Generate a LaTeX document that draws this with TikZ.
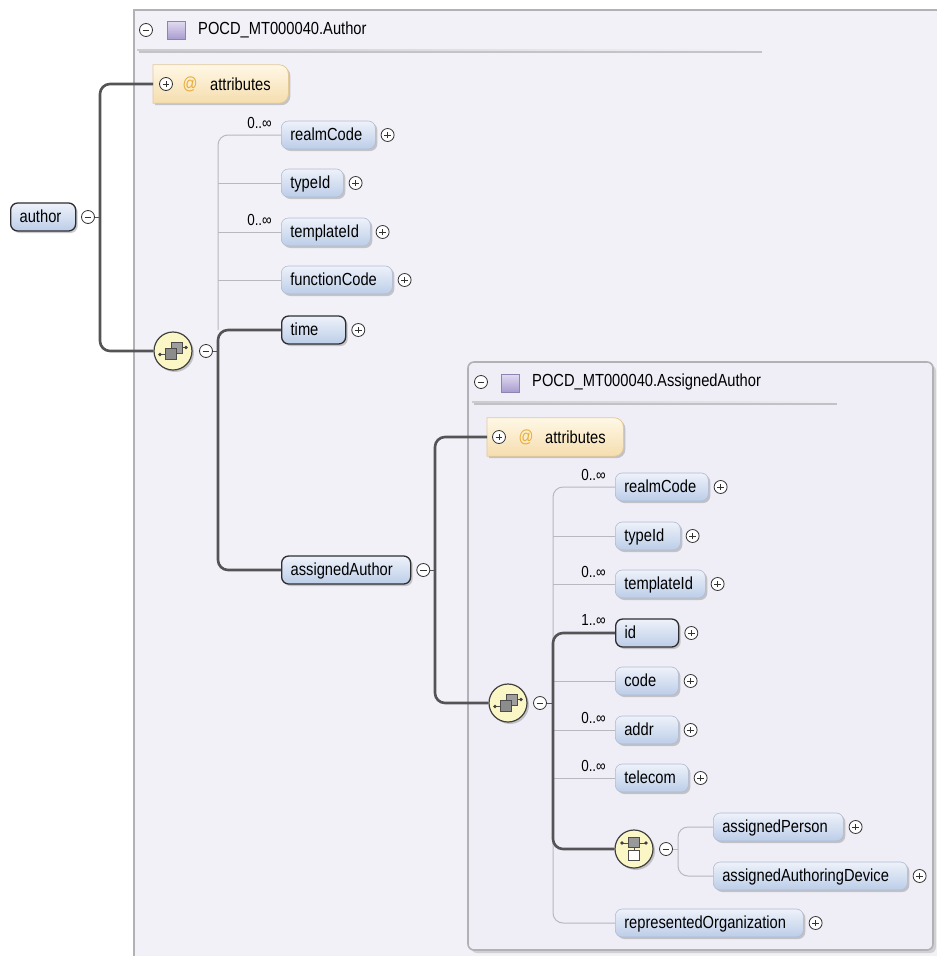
\documentclass[tikz,border=0pt]{standalone}
\usepackage{fontspec}
\setmainfont{Liberation Sans}[FakeStretch=0.84]
\usetikzlibrary{shadows,calc}
\definecolor{bgout}{HTML}{F3F1F8}
\definecolor{bgin}{HTML}{EFEDF6}
\definecolor{boxline}{HTML}{B2B1B6}
\definecolor{nodetop}{HTML}{EEF2FA}
\definecolor{nodebot}{HTML}{BCCDE8}
\definecolor{optborder}{HTML}{AFBCD2}
\definecolor{reqborder}{HTML}{2E2E32}
\definecolor{attrtop}{HTML}{FFF8E6}
\definecolor{attrbot}{HTML}{F5DDAE}
\definecolor{attrline}{HTML}{E3C995}
\definecolor{atsign}{HTML}{E7AE3A}
\definecolor{iconfill}{HTML}{FAF6C6}
\definecolor{thickc}{HTML}{545456}
\definecolor{thinc}{HTML}{B9B8BE}
\definecolor{sqtop}{HTML}{E2DCF2}
\definecolor{sqbot}{HTML}{A99CCF}
\definecolor{sqline}{HTML}{8E84B2}
\newcommand\lbx[2]{\makebox[#1][l]{#2}}
\begin{document}
\begin{tikzpicture}[x=1pt,y=-1pt,
  font=\fontsize{17.5}{19}\selectfont,
  shade/.style={drop shadow={shadow xshift=2pt,shadow yshift=-2pt,fill=black!45,opacity=0.45}},
  elem/.style={shade,draw=optborder,line width=0.6pt,rounded corners=7pt,
    top color=nodetop,bottom color=nodebot,minimum height=28pt,anchor=west,
    inner xsep=9pt,inner ysep=0pt,text height=14pt,text depth=3pt},
  req/.style={elem,draw=reqborder,line width=1.3pt},
  pmc/.style={circle,draw=black!80,line width=0.8pt,fill=white,minimum size=13pt,inner sep=0pt},
  plus/.style={pmc,path picture={\draw[line width=0.9pt]
     ([xshift=-3.4pt]path picture bounding box.center) -- ([xshift=3.4pt]path picture bounding box.center)
     ([yshift=-3.4pt]path picture bounding box.center) -- ([yshift=3.4pt]path picture bounding box.center);}},
  minus/.style={pmc,path picture={\draw[line width=0.9pt]
     ([xshift=-3.4pt]path picture bounding box.center) -- ([xshift=3.4pt]path picture bounding box.center);}},
  thickline/.style={draw=thickc,line width=2.6pt,rounded corners=10pt},
  thinline/.style={draw=thinc,line width=1pt,rounded corners=10pt},
  stub/.style={draw=thickc,line width=1pt},
  card/.style={anchor=east,font=\fontsize{16}{17}\selectfont,inner sep=0pt},
  iconc/.style={circle,draw=black!75,line width=1.2pt,fill=iconfill,minimum size=38pt,inner sep=0pt,shade},
  attrbox/.style={rectangle,minimum height=38pt,anchor=west,inner sep=0pt},
  hdrsq/.style={rectangle,minimum size=18pt,inner sep=0pt,draw=sqline,line width=0.8pt,top color=sqtop,bottom color=sqbot},
  seqicon/.pic={
    \draw[black!70,line width=0.9pt] (-13,3.5) -- (-8,3.5);
    \fill[black!75] (-13,3.5) circle (1.9);
    \draw[black!70,line width=0.9pt,fill=black!38] (-2,-9) rectangle (9,2);
    \draw[black!70,line width=0.9pt,fill=black!45] (-8,-3) rectangle (3,8);
    \draw[black!70,line width=0.9pt] (9,-3.5) -- (13,-3.5);
    \fill[black!75] (13,-3.5) circle (1.9);
  },
  choiceicon/.pic={
    \draw[black!70,line width=0.9pt] (-12,-6) -- (12,-6);
    \fill[black!75] (-12,-6) circle (1.9) (12,-6) circle (1.9);
    \draw[black!70,line width=0.9pt,fill=black!40] (-5.5,-11.5) rectangle (5.5,-1.5);
    \draw[black!70,line width=0.9pt] (0,-1.5) -- (0,1.5);
    \draw[black!70,line width=0.9pt,fill=white] (-5.5,1.5) rectangle (5.5,11.5);
  }]
\useasboundingbox (0,0) rectangle (937,956);
\clip (0,0) rectangle (937,956);
\fill[white] (0,0) rectangle (937,956);

% ---------- outer box ----------
\draw[boxline,line width=2pt,fill=bgout] (134,10) rectangle (950,970);
\node[minus] (hm1) at (146,30) {};
\node[hdrsq] (hs1) at (176,30) {};
\node[anchor=west,inner sep=0pt] (ht1) at (198,30) {POCD\_MT000040.Author};
\shade[left color=black!20,right color=bgout] (137,49) rectangle (760,50.5);

% attributes (outer)
\node[attrbox,minimum width=135pt] (attr1) at (153,84) {};
\draw[attrline,line width=0.8pt,top color=attrtop,bottom color=attrbot,shade]
  (attr1.west) -- (attr1.north west) [rounded corners=9pt] -- (attr1.north east) -- (attr1.south east) [sharp corners] -- (attr1.south west) -- cycle;
\node[plus] (ap1) at ([xshift=13pt]attr1.west) {};
\node[text=atsign,inner sep=0pt] (at1) at ([xshift=37pt]attr1.west) {@};
\node[anchor=west,inner sep=0pt] (att1) at ([xshift=57pt]attr1.west) {attributes};

% author
\node[req] (author) at (10,217) {\lbx{47pt}{author}};
\node[minus] (am) at (88,217) {};
\coordinate (v1) at (100,0);

% sequence 1
\node[iconc] (seq1) at (173,351) {};
\pic at (seq1.center) {seqicon};
\node[minus] (sm1) at (206,351) {};
\coordinate (v2) at (218,0);

% children outer
\node[elem] (rc1) at (281,135) {\lbx{76pt}{realmCode}};
\node[plus] (rc1p) at ([xshift=12pt]rc1.east) {};
\node[card] (rc1c) at ([xshift=-9pt,yshift=-2pt]rc1.north west) {0..∞};
\node[elem] (ty1) at (281,183) {\lbx{44pt}{typeId}};
\node[plus] (ty1p) at ([xshift=12pt]ty1.east) {};
\node[elem] (tp1) at (281,232) {\lbx{71pt}{templateId}};
\node[plus] (tp1p) at ([xshift=12pt]tp1.east) {};
\node[card] (tp1c) at ([xshift=-9pt,yshift=-2pt]tp1.north west) {0..∞};
\node[elem] (fc1) at (281,280) {\lbx{93pt}{functionCode}};
\node[plus] (fc1p) at ([xshift=12pt]fc1.east) {};
\node[req] (time) at (281,330) {\lbx{46pt}{time}};
\node[plus] (timep) at ([xshift=12pt]time.east) {};
\node[req] (aa) at (281,570) {\lbx{111pt}{assignedAuthor}};
\node[minus] (aam) at ([xshift=12pt]aa.east) {};
\coordinate (v3) at (435,0);

% ---------- inner box ----------
\fill[black!18,rounded corners=6pt] (471,365) rectangle (936,953);
\draw[boxline,line width=1.6pt,fill=bgin,rounded corners=6pt] (468,362) rectangle (933,950);
\node[minus] (hm2) at (481,382) {};
\node[hdrsq] (hs2) at (510,383) {};
\node[anchor=west,inner sep=0pt] (ht2) at (532,382) {POCD\_MT000040.AssignedAuthor};
\shade[left color=black!20,right color=bgin] (472,401) rectangle (835,402.5);

% attributes (inner)
\node[attrbox,minimum width=136pt] (attr2) at (487,437) {};
\draw[attrline,line width=0.8pt,top color=attrtop,bottom color=attrbot,shade]
  (attr2.west) -- (attr2.north west) [rounded corners=9pt] -- (attr2.north east) -- (attr2.south east) [sharp corners] -- (attr2.south west) -- cycle;
\node[plus] (ap2) at ([xshift=12pt]attr2.west) {};
\node[text=atsign,inner sep=0pt] (at2) at ([xshift=39pt]attr2.west) {@};
\node[anchor=west,inner sep=0pt] (att2) at ([xshift=58pt]attr2.west) {attributes};

% sequence 2
\node[iconc] (seq2) at (508,703) {};
\pic at (seq2.center) {seqicon};
\node[minus] (sm2) at (540,703) {};
\coordinate (v4) at (553,0);

% children inner
\node[elem] (rc2) at (615,487) {\lbx{75pt}{realmCode}};
\node[plus] (rc2p) at ([xshift=12pt]rc2.east) {};
\node[card] (rc2c) at ([xshift=-9pt,yshift=-2pt]rc2.north west) {0..∞};
\node[elem] (ty2) at (615,536) {\lbx{47pt}{typeId}};
\node[plus] (ty2p) at ([xshift=12pt]ty2.east) {};
\node[elem] (tp2) at (615,584) {\lbx{72pt}{templateId}};
\node[plus] (tp2p) at ([xshift=12pt]tp2.east) {};
\node[card] (tp2c) at ([xshift=-9pt,yshift=-2pt]tp2.north west) {0..∞};
\node[req] (id) at (615,633) {\lbx{45pt}{id}};
\node[plus] (idp) at ([xshift=12pt]id.east) {};
\node[card] (idc) at ([xshift=-9pt,yshift=-2pt]id.north west) {1..∞};
\node[elem] (code) at (615,681) {\lbx{45pt}{code}};
\node[plus] (codep) at ([xshift=12pt]code.east) {};
\node[elem] (addr) at (615,730) {\lbx{45pt}{addr}};
\node[plus] (addrp) at ([xshift=12pt]addr.east) {};
\node[card] (addrc) at ([xshift=-9pt,yshift=-2pt]addr.north west) {0..∞};
\node[elem] (tel) at (615,778) {\lbx{55pt}{telecom}};
\node[plus] (telp) at ([xshift=12pt]tel.east) {};
\node[card] (telc) at ([xshift=-9pt,yshift=-2pt]tel.north west) {0..∞};

% choice
\node[iconc] (ch) at (634,849) {};
\pic at (ch.center) {choiceicon};
\node[minus] (cm) at (666,849) {};
\coordinate (v5) at (678,0);
\node[elem] (ap) at (713,827) {\lbx{112pt}{assignedPerson}};
\node[plus] (app) at ([xshift=12pt]ap.east) {};
\node[elem] (ad) at (713,876) {\lbx{176pt}{assignedAuthoringDevice}};
\node[plus] (adp) at ([xshift=12pt]ad.east) {};
\node[elem] (ro) at (615,923) {\lbx{170pt}{representedOrganization}};
\node[plus] (rop) at ([xshift=12pt]ro.east) {};

% ---------- connectors ----------
\draw[stub] (am.east) -- (v1 |- am.east);
\draw[thickline] (attr1.west) -- (v1 |- attr1.west) -- (v1 |- seq1.west) -- (seq1.west);
\draw[stub] (sm1.east) -- (v2 |- sm1.east);
\draw[thinline] (rc1.west) -- (v2 |- rc1.west) -- (v2 |- time.west);
\draw[thinline] (v2 |- ty1.west) -- (ty1.west);
\draw[thinline] (v2 |- tp1.west) -- (tp1.west);
\draw[thinline] (v2 |- fc1.west) -- (fc1.west);
\draw[thickline] (time.west) -- (v2 |- time.west) -- (v2 |- aa.west) -- (aa.west);
\draw[stub] (aam.east) -- (v3 |- aam.east);
\draw[thickline] (attr2.west) -- (v3 |- attr2.west) -- (v3 |- seq2.west) -- (seq2.west);
\draw[stub] (sm2.east) -- (v4 |- sm2.east);
\draw[thinline] (rc2.west) -- (v4 |- rc2.west) -- (v4 |- ro.west) -- (ro.west);
\draw[thinline] (v4 |- ty2.west) -- (ty2.west);
\draw[thinline] (v4 |- tp2.west) -- (tp2.west);
\draw[thinline] (v4 |- code.west) -- (code.west);
\draw[thinline] (v4 |- addr.west) -- (addr.west);
\draw[thinline] (v4 |- tel.west) -- (tel.west);
\draw[thickline] (id.west) -- (v4 |- id.west) -- (v4 |- ch.west) -- (ch.west);
\draw[thinline] (cm.east) -- (v5 |- cm.east);
\draw[thinline] (ap.west) -- (v5 |- ap.west) -- (v5 |- ad.west) -- (ad.west);
\end{tikzpicture}
\end{document}
